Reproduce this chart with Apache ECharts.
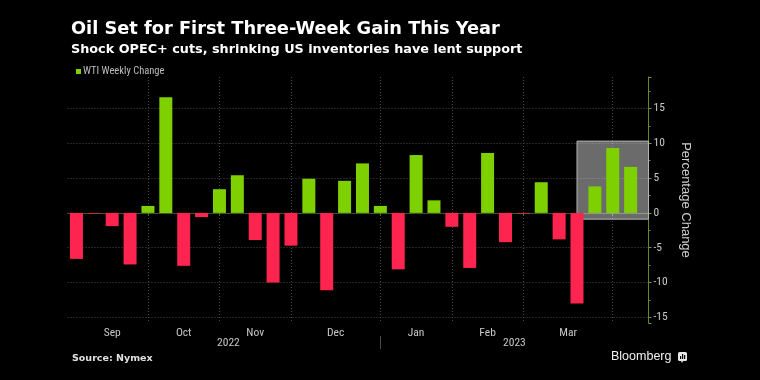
<!DOCTYPE html>
<html>
<head>
<meta charset="utf-8">
<script src="https://cdn.jsdelivr.net/npm/echarts@6/dist/echarts.min.js"></script>
<style>
html,body{margin:0;padding:0;background:#000;}
#chart{width:760px;height:380px;}
</style>
</head>
<body>
<div id="chart"></div>
<script>
// ---- data ----
const weeks = [
  '2022-09-02','2022-09-09','2022-09-16','2022-09-23','2022-09-30',
  '2022-10-07','2022-10-14','2022-10-21','2022-10-28',
  '2022-11-04','2022-11-11','2022-11-18','2022-11-25',
  '2022-12-02','2022-12-09','2022-12-16','2022-12-23','2022-12-30',
  '2023-01-06','2023-01-13','2023-01-20','2023-01-27',
  '2023-02-03','2023-02-10','2023-02-17','2023-02-24',
  '2023-03-03','2023-03-10','2023-03-17','2023-03-24','2023-03-31',
  '2023-04-06'
];
const weeklyChange = [
  -6.6, -0.1, -1.9, -7.4, 1.0,
  16.6, -7.6, -0.6, 3.4,
  5.4, -3.9, -10.0, -4.7,
  4.9, -11.1, 4.6, 7.1, 1.0,
  -8.1, 8.3, 1.8, -2.0,
  -7.9, 8.6, -4.2, -0.1,
  4.4, -3.8, -13.0, 3.8, 9.3,
  6.6
];
const monthNames = ['Jan','Feb','Mar','Apr','May','Jun','Jul','Aug','Sep','Oct','Nov','Dec'];
const seriesName = 'WTI Weekly Change';
const highlightFromWeek = '2023-03-17';
const highlightRange = [-0.9, 10.3];

// ---- build slots: two slots per week so that month ticks/labels can sit between bars ----
const n = weeks.length;
const slotCount = 2 * n + 2;
const slotNames = [];
for (let k = 0; k < slotCount; k++) slotNames.push('s' + k);
const barSlot = i => 2 * i + 1;

const GREEN = '#7fd000';
const RED = '#fd2450';
const barData = new Array(slotCount).fill(null);
weeks.forEach((w, i) => {
  const v = weeklyChange[i];
  barData[barSlot(i)] = { value: v, itemStyle: { color: v < 0 ? RED : GREEN } };
});

const month = w => parseInt(w.slice(5, 7), 10) - 1;
const year = w => w.slice(0, 4);

const monthTicks = new Set();
const monthLabelAt = {};
const yearLabelAt = {};
let yearTick = -1;
let segStart = barSlot(0);
let yearStart = barSlot(0);
for (let i = 0; i < n - 1; i++) {
  if (month(weeks[i]) !== month(weeks[i + 1])) {
    const k = barSlot(i);
    monthTicks.add(k);
    monthLabelAt[Math.round((segStart + k) / 2)] = monthNames[month(weeks[i])];
    segStart = k;
  }
  if (year(weeks[i]) !== year(weeks[i + 1])) {
    const k = barSlot(i);
    yearTick = k;
    yearLabelAt[Math.round((yearStart + k) / 2)] = year(weeks[i]);
    yearStart = k;
  }
}
yearLabelAt[Math.round((yearStart + slotCount - 1) / 2)] = year(weeks[n - 1]);

const hiStart = barSlot(weeks.indexOf(highlightFromWeek));

const NARROW = '"Liberation Sans Narrow", "Roboto Condensed", "DejaVu Sans Condensed", "Liberation Sans"';

const chart = echarts.init(document.getElementById('chart'), null, { renderer: 'canvas' });
const option = {
  backgroundColor: '#000',
  textStyle: { fontFamily: 'Liberation Sans' },
  animation: false,
  title: [
    { text: 'Oil Set for First Three-Week Gain This Year', left: 66, top: 15,
      textStyle: { color: '#fff', fontSize: 17.8, fontWeight: 'bold', fontFamily: 'DejaVu Sans' } },
    { text: 'Shock OPEC+ cuts, shrinking US inventories have lent support', left: 66, top: 38,
      textStyle: { color: '#fff', fontSize: 12.8, fontWeight: 'bold', fontFamily: 'DejaVu Sans' } }
  ],
  legend: {
    data: [seriesName], left: 71, top: 61, icon: 'rect', itemWidth: 5, itemHeight: 5,
    selectedMode: false,
    textStyle: { color: '#bdbdbd', fontSize: 10.5, fontFamily: NARROW, padding: [0, 0, 0, -3] }
  },
  grid: { left: 67.5, top: 77, width: 581, height: 246, containLabel: false },
  xAxis: [
    {
      type: 'category', data: slotNames, boundaryGap: false,
      axisLine: { show: true, lineStyle: { color: '#3f5528', width: 1 } },
      axisTick: { show: true, interval: idx => monthTicks.has(idx), length: 3, lineStyle: { color: '#4f6f2c' } },
      axisLabel: { interval: 0, formatter: (v, idx) => monthLabelAt[idx] || '', color: '#c8c8c8', fontSize: 11.5, fontFamily: NARROW, margin: 4 },
      splitLine: { show: true, interval: idx => monthTicks.has(idx), lineStyle: { color: '#484848', type: [1, 2] } }
    },
    {
      type: 'category', data: slotNames, boundaryGap: false, position: 'bottom', offset: 13,
      axisLine: { show: false },
      axisTick: { show: true, interval: idx => idx === yearTick, length: 13, lineStyle: { color: '#4a4a4a' } },
      axisLabel: { interval: 0, formatter: (v, idx) => yearLabelAt[idx] || '', color: '#c8c8c8', fontSize: 11.5, fontFamily: NARROW, margin: 1 },
      splitLine: { show: false }
    }
  ],
  yAxis: {
    type: 'value', position: 'right', min: -15.8, max: 19.5, splitNumber: 7,
    axisLine: { show: true, lineStyle: { color: '#5f8a2c' } },
    axisTick: { show: true, length: 3, lineStyle: { color: '#6a9a30' } },
    minorTick: { show: true, splitNumber: 2, length: 2, lineStyle: { color: '#6a9a30' } },
    axisLabel: { color: '#c8c8c8', fontSize: 11.5, fontFamily: NARROW, margin: 5, showMinLabel: false, showMaxLabel: false },
    splitLine: { show: true, showMinLine: false, showMaxLine: false, lineStyle: { color: '#484848', type: [1, 2] } },
    name: 'Percentage Change', nameLocation: 'middle', nameRotate: -90, nameGap: 22,
    nameTextStyle: { color: '#d0d0d0', fontSize: 13 }
  },
  series: [
    {
      name: seriesName, type: 'bar', xAxisIndex: 0, data: barData, barWidth: 13,
      itemStyle: { color: GREEN }, z: 2
    },
    {
      name: 'highlight', type: 'line', xAxisIndex: 0, data: [], z: 10, silent: true,
      markArea: {
        silent: true,
        itemStyle: { color: 'rgba(255,255,255,0.42)', borderColor: '#b4b4b4', borderWidth: 1 },
        data: [[{ xAxis: hiStart, yAxis: highlightRange[1] }, { xAxis: slotCount - 1, yAxis: highlightRange[0] }]]
      }
    }
  ],
  graphic: [
    { type: 'text', left: 72, top: 354, style: { text: 'Source: Nymex', fill: '#e0e0e0', font: 'bold 9.5px "DejaVu Sans"' } },
    { type: 'text', left: 611, top: 350, style: { text: 'Bloomberg', fill: '#f0f0f0', font: '500 12.5px "Liberation Sans"' } },
    { type: 'group', left: 678, top: 352, children: [
      { type: 'rect', shape: { x: 0, y: 0, width: 9, height: 9, r: 1.5 }, style: { fill: '#e8e8e8' } },
      { type: 'polygon', shape: { points: [[3, 9], [5, 9], [4, 11]] }, style: { fill: '#e8e8e8' } },
      { type: 'rect', shape: { x: 2, y: 4, width: 1.2, height: 3 }, style: { fill: '#000' } },
      { type: 'rect', shape: { x: 4, y: 2, width: 1.2, height: 5 }, style: { fill: '#000' } },
      { type: 'rect', shape: { x: 6, y: 3, width: 1.2, height: 4 }, style: { fill: '#000' } }
    ] }
  ]
};
chart.setOption(option);
</script>
</body>
</html>
